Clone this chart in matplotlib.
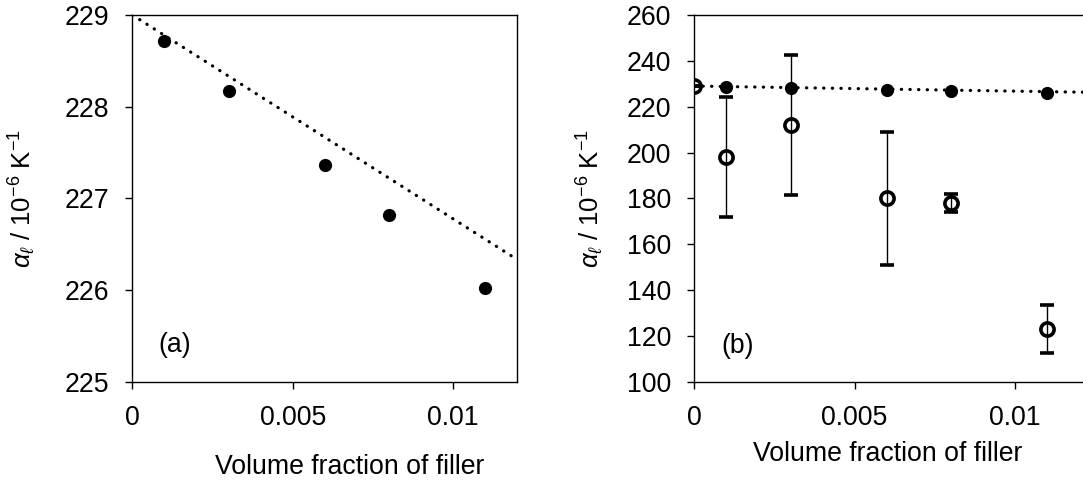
import numpy as np
import matplotlib
matplotlib.use("Agg")
import matplotlib.pyplot as plt

plt.rcParams['font.family'] = ['Liberation Sans', 'DejaVu Sans']
plt.rcParams['mathtext.fontset'] = 'custom'
plt.rcParams['mathtext.rm'] = 'Liberation Sans'
plt.rcParams['mathtext.it'] = 'Liberation Sans:italic'

# measured data (filled) and fitted line
vf = [0.001, 0.003, 0.006, 0.008, 0.011]
alpha = [228.72, 228.17, 227.36, 226.82, 226.02]
fit_intercept = 229.0
fit_slope = -222.4

# second data set (open circles) with error bars
vf_open = [0.0, 0.001, 0.003, 0.006, 0.008, 0.011]
alpha_open = [229.0, 198.0, 212.0, 180.0, 178.0, 123.0]
alpha_err = [0.0, 26.0, 30.7, 29.0, 4.0, 10.6]

xticks = [0, 0.005, 0.01]
xtick_labels = ['0', '0.005', '0.01']
yticks_a = [225, 226, 227, 228, 229]
yticks_b = [100, 120, 140, 160, 180, 200, 220, 240, 260]

ylabel = r'$\alpha_{\ell}$ / 10$^{-6}$ K$^{-1}$'
xlabel = 'Volume fraction of filler'
fs = 19.2
dotted = (0, (0.1, 2.6))

fig = plt.figure(figsize=(10.83, 4.82), dpi=100)
ax1 = fig.add_axes([0.1222, 0.2081, 0.3555, 0.7608])
ax2 = fig.add_axes([0.6411, 0.2081, 0.385, 0.7608])

def style(ax):
    for s in ax.spines.values():
        s.set_linewidth(1.0)
    ax.tick_params(direction='out', length=5, width=1.0, labelsize=fs, pad=11.5,
                   top=False, right=False)
    ax.set_xticks(xticks)
    ax.set_xticklabels(xtick_labels)

# panel (a)
xl = np.array([0.0, 0.012])
ax1.plot(xl, fit_intercept + fit_slope * xl, color='black', lw=2.3,
         linestyle=dotted, dash_capstyle='round', zorder=2)
ax1.plot(vf, alpha, 'o', color='black', ms=9.5, mew=0, zorder=3)
ax1.set_xlim(0, 0.012)
ax1.set_ylim(225, 229)
ax1.set_yticks(yticks_a)
style(ax1)
ax1.set_ylabel(ylabel, fontsize=18.5)
ax1.yaxis.set_label_coords(-0.2475, 0.5)
ax1.set_xlabel(xlabel, fontsize=fs)
ax1.xaxis.set_label_coords(0.565, -0.2525)
ax1.xaxis.label.set_verticalalignment('baseline')
ax1.text(0.068, 0.100, '(a)', transform=ax1.transAxes, fontsize=fs,
         ha='left', va='center')

# panel (b)
xl2 = np.array([0.0, 0.013])
ax2.plot(xl2, fit_intercept + fit_slope * xl2, color='black', lw=2.3,
         linestyle=dotted, dash_capstyle='round', zorder=2)
ax2.plot(vf, alpha, 'o', color='black', ms=9.5, mew=0, zorder=3)
ax2.errorbar(vf_open, alpha_open, yerr=alpha_err, fmt='o', color='black',
             mfc='none', mec='black', ms=9.5, mew=2.6, elinewidth=1.0,
             capsize=4.7, capthick=1.0, zorder=4)
ax2.set_xlim(0, 0.013)
ax2.set_ylim(100, 260)
ax2.set_yticks(yticks_b)
style(ax2)
ax2.spines['right'].set_visible(False)
ax2.set_ylabel(ylabel, fontsize=18.5)
ax2.yaxis.set_label_coords(-0.215, 0.5)
ax2.set_xlabel(xlabel, fontsize=fs)
ax2.xaxis.set_label_coords(0.4645, -0.216)
ax2.xaxis.label.set_verticalalignment('baseline')
ax2.text(0.065, 0.096, '(b)', transform=ax2.transAxes, fontsize=fs,
         ha='left', va='center')

fig.savefig('out.png', dpi=100)
